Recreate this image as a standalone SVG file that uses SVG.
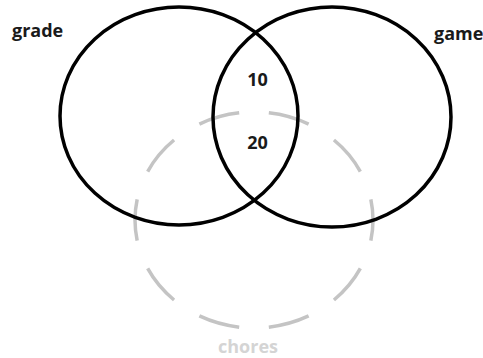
<svg xmlns="http://www.w3.org/2000/svg" width="483" height="358" viewBox="0 0 483 358">
<style>
.set{fill:none;stroke:#000;stroke-width:3.5}
.chores{fill:none;stroke:#c4c4c4;stroke-width:3.5;stroke-dasharray:0.58 0.42;stroke-dashoffset:0.29}
.lbl{font-family:"Open Sans","Liberation Sans",sans-serif;font-weight:bold;font-size:18px;fill:#1a1a1a}
.glbl{font-family:"Open Sans","Liberation Sans",sans-serif;font-weight:bold;font-size:18px;fill:#d4d4d4}
</style>
<rect width="483" height="358" fill="#fff"/>
<g id="chores">
<ellipse class="chores" cx="254" cy="220" rx="119" ry="108" pathLength="10"/>
<text class="glbl" x="248" y="353" text-anchor="middle">chores</text>
</g>
<g id="grade">
<ellipse class="set" cx="179" cy="116" rx="119" ry="109"/>
<text class="lbl" x="12" y="37">grade</text>
</g>
<g id="game">
<ellipse class="set" cx="332" cy="117" rx="119" ry="110"/>
<text class="lbl" x="434" y="40">game</text>
</g>
<g id="overlap">
<text class="lbl" x="257.5" y="86" text-anchor="middle">10</text>
<text class="lbl" x="257.5" y="149" text-anchor="middle">20</text>
</g>
</svg>
